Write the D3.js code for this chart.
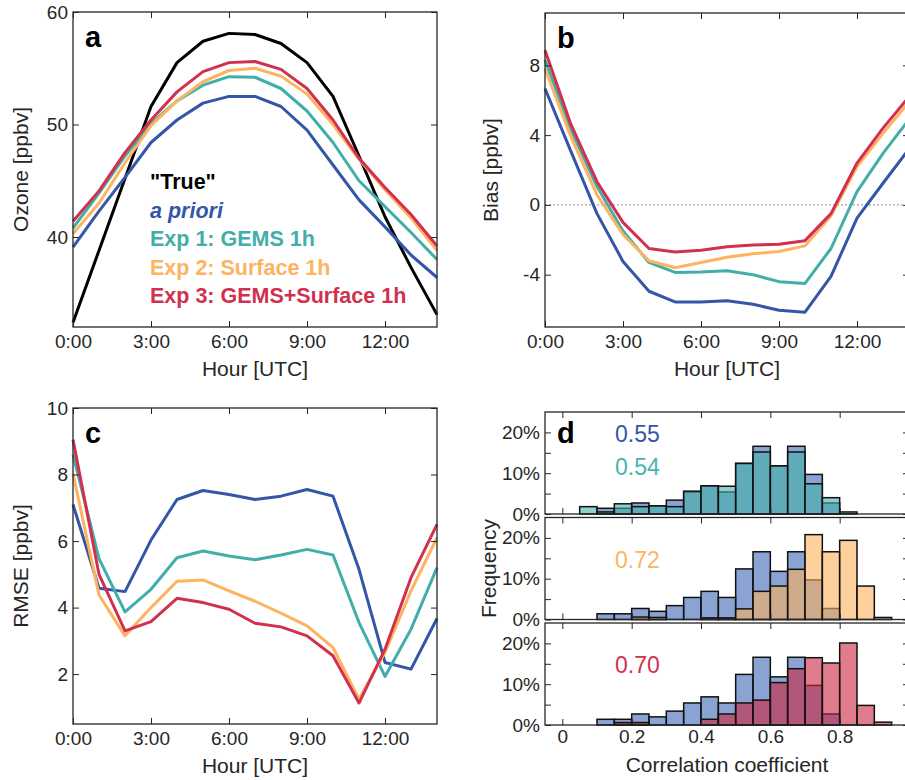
<!DOCTYPE html>
<html>
<head>
<meta charset="utf-8">
<script src="https://cdn.jsdelivr.net/npm/d3@7"></script>
<style>
  body { margin: 0; background: #fff; }
  svg { display: block; }
</style>
</head>
<body>
<svg id="fig" width="905" height="780"></svg>
<script>
// ---- data ----
const hours = [0, 1, 2, 3, 4, 5, 6, 7, 8, 9, 10, 11, 12, 13, 14];
const hourTicks = [0, 3, 6, 9, 12];

// panel a: ozone [ppbv]
const ozoneTrue   = [32.4, 38.8, 45.2, 51.6, 55.5, 57.4, 58.1, 58.0, 57.2, 55.5, 52.5, 47.2, 41.8, 37.3, 33.1];
const ozoneApriori= [39.1, 42.3, 45.3, 48.4, 50.4, 51.9, 52.5, 52.5, 51.6, 49.5, 46.4, 43.3, 40.9, 38.4, 36.4];
const ozoneExp1   = [40.8, 43.9, 47.2, 50.1, 52.1, 53.5, 54.25, 54.2, 53.2, 51.2, 48.4, 45.0, 42.7, 40.4, 38.0];
const ozoneExp2   = [40.3, 43.0, 46.6, 49.9, 52.1, 53.8, 54.8, 55.0, 54.3, 52.7, 50.0, 46.9, 44.2, 41.7, 38.8];
const ozoneExp3   = [41.4, 44.1, 47.5, 50.4, 52.9, 54.7, 55.5, 55.6, 54.9, 53.2, 50.4, 47.0, 44.4, 42.0, 39.2];

// panel b: bias [ppbv]
const biasApriori = [6.67, 3.05, -0.5, -3.24, -4.95, -5.56, -5.56, -5.5, -5.7, -6.04, -6.15, -4.1, -0.76, 1.24, 3.2];
const biasExp1    = [8.3, 4.3, 1.05, -1.5, -3.3, -3.87, -3.85, -3.77, -4.0, -4.4, -4.5, -2.5, 0.76, 2.95, 4.9];
const biasExp2    = [7.8, 3.9, 0.57, -1.7, -3.2, -3.6, -3.3, -3.0, -2.8, -2.67, -2.35, -0.63, 2.2, 4.1, 5.9];
const biasExp3    = [8.86, 4.6, 1.33, -1.0, -2.5, -2.7, -2.6, -2.4, -2.3, -2.25, -2.05, -0.5, 2.4, 4.4, 6.2];

// panel c: rmse [ppbv]
const rmseApriori = [7.1, 4.58, 4.48, 6.03, 7.25, 7.52, 7.4, 7.25, 7.35, 7.55, 7.35, 5.15, 2.35, 2.15, 3.67];
const rmseExp1    = [8.6, 5.47, 3.87, 4.55, 5.5, 5.7, 5.55, 5.44, 5.58, 5.75, 5.58, 3.55, 1.93, 3.35, 5.2];
const rmseExp2    = [8.03, 4.38, 3.15, 4.0, 4.79, 4.83, 4.5, 4.19, 3.83, 3.45, 2.8, 1.25, 2.65, 4.5, 6.1];
const rmseExp3    = [9.05, 5.0, 3.3, 3.58, 4.28, 4.15, 3.95, 3.53, 3.42, 3.15, 2.55, 1.13, 2.75, 4.9, 6.5];

// panel d: correlation histograms, bin left edges (width 0.05), frequency in %
const binStart  = [0.05, 0.10, 0.15, 0.20, 0.25, 0.30, 0.35, 0.40, 0.45, 0.50, 0.55, 0.60, 0.65, 0.70, 0.75, 0.80, 0.85, 0.90];
const histApriori = [0, 1.4, 1.4, 2.7, 2.0, 3.4, 5.4, 6.9, 5.4, 12.4, 16.6, 11.8, 16.6, 9.7, 2.7, 0, 0, 0];
const histExp1    = [1.8, 0.5, 2.5, 1.8, 2.0, 1.8, 5.6, 6.9, 6.8, 12.4, 15.2, 11.8, 15.2, 7.4, 4.0, 0.5, 0, 0];
const histExp2    = [0, 0, 0, 0.6, 0.5, 0, 0, 0.4, 0.4, 2.6, 6.9, 8.2, 12.3, 20.8, 16.6, 19.4, 8.2, 0.5];
const histExp3    = [0, 0, 0.6, 0.6, 0, 0, 0, 1.4, 2.7, 5.4, 6.1, 10.4, 13.8, 16.5, 15.2, 20.1, 4.8, 0.7];
const medianApriori = '0.55', medianExp1 = '0.54', medianExp2 = '0.72', medianExp3 = '0.70';
const corrTicks = [0, 0.2, 0.4, 0.6, 0.8];

const legendLabels = ['"True"', 'a priori', 'Exp 1: GEMS 1h', 'Exp 2: Surface 1h', 'Exp 3: GEMS+Surface 1h'];

// ---- styling ----
const FONT = '"Liberation Sans", Arial, Helvetica, sans-serif';
const INK = '#262626';
const C = { truth: '#000000', apriori: '#3356a8', exp1: '#42aea9', exp2: '#fdb35f', exp3: '#d2304f' };
const HIST = { apriori: '#3c66b6', exp1: '#44b1aa', exp2: '#fcb15a', exp3: '#cb253f' };

const svg = d3.select('#fig').attr('font-family', FONT);

function styleAxis(sel, size) {
  sel.attr('font-family', FONT).attr('font-size', size);
  sel.select('.domain').remove();
  sel.selectAll('line').attr('stroke', INK).attr('stroke-width', 1);
  sel.selectAll('text').attr('fill', INK);
}

// box with inward ticks on all four sides
function drawBox(g, x, y, b, xTicks, yTicks, opts) {
  const xb = g.append('g').attr('transform', `translate(0,${b.y1})`)
    .call(d3.axisBottom(x).tickValues(xTicks).tickSize(-6).tickPadding(opts.xPad)
      .tickFormat(opts.xLabels ? opts.xFmt : () => ''));
  styleAxis(xb, 19);
  const xt = g.append('g').attr('transform', `translate(0,${b.y0})`)
    .call(d3.axisTop(x).tickValues(xTicks).tickSize(-6).tickFormat(() => ''));
  styleAxis(xt, 19);
  const yl = g.append('g').attr('transform', `translate(${b.x0},0)`)
    .call(d3.axisLeft(y).tickValues(yTicks).tickSize(-6).tickPadding(5).tickFormat(opts.yFmt));
  styleAxis(yl, 19);
  const yr = g.append('g').attr('transform', `translate(${b.x1},0)`)
    .call(d3.axisRight(y).tickValues(yTicks).tickSize(-6).tickFormat(() => ''));
  styleAxis(yr, 19);
  g.append('rect')
    .attr('x', b.x0).attr('y', b.y0)
    .attr('width', b.x1 - b.x0).attr('height', b.y1 - b.y0)
    .attr('fill', 'none').attr('stroke', INK).attr('stroke-width', 1.3);
}

function panelLetter(txt, x, y) {
  svg.append('text').attr('x', x).attr('y', y)
    .attr('font-size', 29).attr('font-weight', 'bold').attr('fill', '#000').text(txt);
}

function yTitle(txt, x, yc) {
  svg.append('text')
    .attr('transform', `translate(${x},${yc}) rotate(-90)`)
    .attr('text-anchor', 'middle').attr('font-size', 21).attr('fill', INK).text(txt);
}

function xTitle(txt, xc, y) {
  svg.append('text').attr('x', xc).attr('y', y)
    .attr('text-anchor', 'middle').attr('font-size', 21).attr('fill', INK).text(txt);
}

const hourFmt = h => `${h}:00`;

function linePanel(b, yDomain, yTicks, series, letter, ylabel, zeroLine) {
  const g = svg.append('g');
  const x = d3.scaleLinear().domain([0, 14]).range([b.x0, b.x1]);
  const y = d3.scaleLinear().domain(yDomain).range([b.y1, b.y0]);
  if (zeroLine) {
    g.append('line')
      .attr('x1', b.x0).attr('x2', b.x1).attr('y1', y(0)).attr('y2', y(0))
      .attr('stroke', '#8a8a8a').attr('stroke-width', 1).attr('stroke-dasharray', '2,2');
  }
  const line = d3.line().x((d, i) => x(hours[i])).y(d => y(d));
  series.forEach(s => {
    g.append('path').datum(s.values)
      .attr('d', line).attr('fill', 'none')
      .attr('stroke', s.color).attr('stroke-width', 3).attr('stroke-linejoin', 'round');
  });
  drawBox(g, x, y, b, hourTicks, yTicks, { xPad: 7.5, xLabels: true, xFmt: hourFmt, yFmt: d => d });
  panelLetter(letter, b.x0 + 12, b.y0 + 35);
  yTitle(ylabel, b.x0 - (b.x0 === 73 ? 45 : 47), (b.y0 + b.y1) / 2);
  xTitle('Hour [UTC]', (b.x0 + b.x1) / 2, b.y1 + 49);
  return { x, y };
}

// panel a
const boxA = { x0: 73, x1: 437, y0: 12, y1: 327 };
linePanel(boxA, [32, 60], [40, 50, 60], [
  { values: ozoneTrue, color: C.truth },
  { values: ozoneApriori, color: C.apriori },
  { values: ozoneExp1, color: C.exp1 },
  { values: ozoneExp2, color: C.exp2 },
  { values: ozoneExp3, color: C.exp3 }
], 'a', 'Ozone [ppbv]');

// legend in panel a
const legColors = [C.truth, C.apriori, C.exp1, C.exp2, C.exp3];
legendLabels.forEach((t, i) => {
  svg.append('text')
    .attr('x', 150).attr('y', 189 + i * 28.5)
    .attr('font-size', 21.5).attr('font-weight', 'bold')
    .attr('font-style', i === 1 ? 'italic' : 'normal')
    .attr('fill', legColors[i]).text(t);
});

// panel b
const boxB = { x0: 545, x1: 909, y0: 13, y1: 327 };
linePanel(boxB, [-7, 11], [-4, 0, 4, 8], [
  { values: biasApriori, color: C.apriori },
  { values: biasExp1, color: C.exp1 },
  { values: biasExp2, color: C.exp2 },
  { values: biasExp3, color: C.exp3 }
], 'b', 'Bias [ppbv]', true);

// panel c
const boxC = { x0: 73, x1: 437, y0: 408, y1: 724 };
linePanel(boxC, [0.5, 10], [2, 4, 6, 8, 10], [
  { values: rmseApriori, color: C.apriori },
  { values: rmseExp1, color: C.exp1 },
  { values: rmseExp2, color: C.exp2 },
  { values: rmseExp3, color: C.exp3 }
], 'c', 'RMSE [ppbv]');

// panel d: three stacked histograms
const subs = [
  { y0: 412, y1: 514, exp: histExp1, color: HIST.exp1, labels: [[medianApriori, C.apriori, 442], [medianExp1, '#4ab3ad', 475]] },
  { y0: 517.5, y1: 619.5, exp: histExp2, color: HIST.exp2, labels: [[medianExp2, C.exp2, 568]] },
  { y0: 623, y1: 725, exp: histExp3, color: HIST.exp3, labels: [[medianExp3, C.exp3, 673]] }
];
const xD = d3.scaleLinear().domain([-0.05, 1.0]).range([545, 909]);
const BIN = 0.05;

subs.forEach((s, k) => {
  const b = { x0: 545, x1: 909, y0: s.y0, y1: s.y1 };
  const y = d3.scaleLinear().domain([0, 25]).range([b.y1, b.y0]);
  const g = svg.append('g');

  const bars = (vals, fill) => {
    g.append('g').selectAll('rect')
      .data(binStart.map((b0, i) => ({ b0, v: vals[i] })).filter(d => d.v > 0))
      .join('rect')
        .attr('x', d => xD(d.b0))
        .attr('y', d => y(d.v))
        .attr('width', d => xD(d.b0 + BIN) - xD(d.b0))
        .attr('height', d => y(0) - y(d.v))
        .attr('fill', fill).attr('fill-opacity', 0.6)
        .attr('stroke', '#111').attr('stroke-width', 1.5);
  };
  bars(histApriori, HIST.apriori);
  bars(s.exp, s.color);

  drawBox(g, xD, y, b, corrTicks, [0, 5, 10, 15, 20], {
    xPad: 4.5, xLabels: k === 2, xFmt: d => d === 0 ? '0' : d3.format('.1f')(d),
    yFmt: d => d % 10 === 0 ? `${d}%` : ''
  });

  s.labels.forEach(([t, col, yy]) => {
    svg.append('text').attr('x', 615).attr('y', yy)
      .attr('font-size', 23).attr('fill', col).text(t);
  });
});
panelLetter('d', 557, 443);
yTitle('Frequency', 496, (412 + 725) / 2);
xTitle('Correlation coefficient', 727, 772);
</script>
</body>
</html>
